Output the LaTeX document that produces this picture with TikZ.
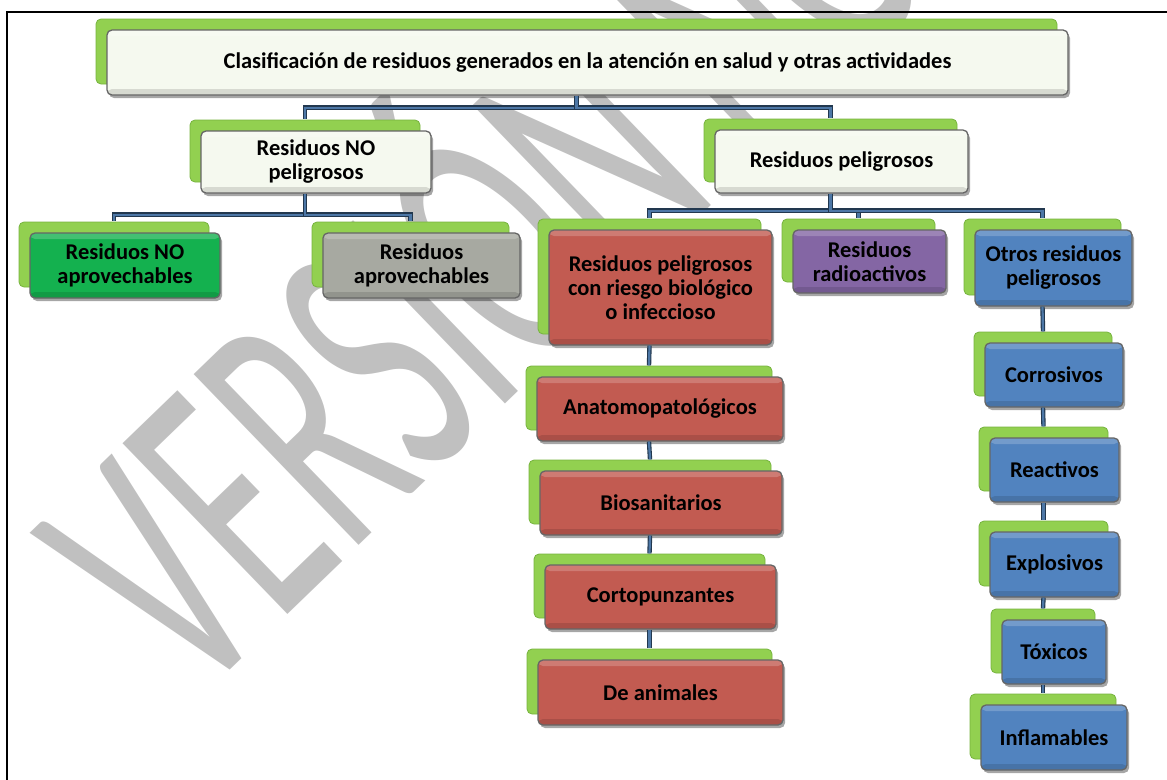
\documentclass[tikz,border=0pt]{standalone}
\usepackage{fontspec}
\setmainfont{Carlito}
\usetikzlibrary{shadows}

\definecolor{verdeA}{HTML}{92D050}
\definecolor{verdeB}{HTML}{76B33E}
\definecolor{blanco}{HTML}{F5F9EF}
\definecolor{verdeO}{HTML}{14B14F}
\definecolor{grisC}{HTML}{A7A9A1}
\definecolor{rojo}{HTML}{C25B51}
\definecolor{morado}{HTML}{8466A4}
\definecolor{azul}{HTML}{5183BF}
\definecolor{azulO}{HTML}{22384F}
\definecolor{azulC}{HTML}{4D77A6}
\definecolor{marcaG}{HTML}{C0C0C0}

\tikzset{
  caja/.style={draw=black!60, line width=1.3pt, rounded corners=5pt,
    align=center, inner sep=2pt,
    font=\bfseries\fontsize{22.5}{24}\selectfont,
    copy shadow={shadow xshift=-11pt, shadow yshift=11pt,
      fill=verdeA, draw=verdeB, line width=.8pt},
    drop shadow={shadow xshift=2pt, shadow yshift=-3pt,
      opacity=.35, fill=black},
    fill=#1,
    path picture={
      \fill[white,opacity=.2] (path picture bounding box.north west)
        rectangle ([yshift=-6pt]path picture bounding box.north east);
      \fill[black,opacity=.12] (path picture bounding box.south west)
        rectangle ([yshift=6pt]path picture bounding box.south east);
    }},
  tam/.style 2 args={minimum width=#1pt, minimum height=#2pt},
  conn/.style={draw=azulO, double=azulC, double distance=2.2pt,
    line width=1.1pt},
}

\begin{document}
\begin{tikzpicture}[x=1pt,y=-1pt]
  \useasboundingbox (0,0) rectangle (1167,779);
  % marca de agua
  \begin{scope}
   \clip (0,0) rectangle (1167,779);
   \node[text=marcaG, font=\fontsize{370}{370}\selectfont,
     rotate=44, xscale=.55, anchor=base west, inner sep=0pt]
     (marca) at (194,705) {VERSIÓN NO CONTROLADA};
  \end{scope}
  \draw[line width=2.5pt] (7,800) -- (7,12) -- (1190,12);

  % nivel 1 y 2
  \node[caja=blanco, tam={961}{65}] (titulo) at (587.5,62.5)
    {Clasificación de residuos generados en la atención en salud y otras actividades};
  \node[caja=blanco, tam={230}{62}] (noPel) at (316,162) {Residuos NO\\peligrosos};
  \node[caja=blanco, tam={253}{63}] (pel) at (841.5,161.5) {Residuos peligrosos};

  % no peligrosos
  \node[caja=verdeO, tam={190}{65}] (noAprov) at (125,265.5) {Residuos NO\\aprovechables};
  \node[caja=grisC, tam={197}{65}] (aprov) at (421.5,265.5) {Residuos\\aprovechables};

  % peligrosos
  \node[caja=rojo, tam={223}{115}] (riesgo) at (660.5,287.5)
    {Residuos peligrosos\\con riesgo biológico\\o infeccioso};
  \node[caja=morado, tam={153}{63}] (radio) at (869.5,261.5) {Residuos\\radioactivos};
  \node[caja=azul, tam={157}{76}] (otros) at (1053.5,268) {Otros residuos\\peligrosos};

  \node[caja=rojo, tam={246}{64}] (anatomo) at (660,409) {Anatomopatológicos};
  \node[caja=rojo, tam={242}{64}] (bio) at (661,503) {Biosanitarios};
  \node[caja=rojo, tam={231}{64}] (corto) at (660.5,597) {Cortopunzantes};
  \node[caja=rojo, tam={245}{65}] (animales) at (660.5,692.5) {De animales};

  \node[caja=azul, tam={138}{64}] (corrosivos) at (1054,375) {Corrosivos};
  \node[caja=azul, tam={129}{64}] (reactivos) at (1054.5,470) {Reactivos};
  \node[caja=azul, tam={129}{65}] (explosivos) at (1054.5,564.5) {Explosivos};
  \node[caja=azul, tam={104}{64}] (toxicos) at (1054,652) {Tóxicos};
  \node[caja=azul, tam={146}{65}] (inflamables) at (1054,737.5) {Inflamables};

  % conectores
  \draw[conn] ([xshift=-11pt]titulo.south) -- ++(0,12) -| ([xshift=-11pt,yshift=11pt]noPel.north);
  \draw[conn] ([xshift=-11pt]titulo.south) -- ++(0,12) -| ([xshift=-11pt,yshift=11pt]pel.north);
  \draw[conn] ([xshift=-11pt]noPel.south) -- ++(0,21) -| ([xshift=-11pt,yshift=11pt]noAprov.north);
  \draw[conn] ([xshift=-11pt]noPel.south) -- ++(0,21) -| ([xshift=-11pt,yshift=11pt]aprov.north);
  \foreach \b in {riesgo,radio,otros}
    \draw[conn] ([xshift=-11pt]pel.south) -- ++(0,17) -| ([xshift=-11pt,yshift=11pt]\b.north);
  \draw[conn] ([xshift=-11pt]riesgo.south) -- ([xshift=-11pt,yshift=11pt]anatomo.north);
  \draw[conn] ([xshift=-11pt]anatomo.south) -- ([xshift=-11pt,yshift=11pt]bio.north);
  \draw[conn] ([xshift=-11pt]bio.south) -- ([xshift=-11pt,yshift=11pt]corto.north);
  \draw[conn] ([xshift=-11pt]corto.south) -- ([xshift=-11pt,yshift=11pt]animales.north);
  \draw[conn] ([xshift=-11pt]otros.south) -- ([xshift=-11pt,yshift=11pt]corrosivos.north);
  \draw[conn] ([xshift=-11pt]corrosivos.south) -- ([xshift=-11pt,yshift=11pt]reactivos.north);
  \draw[conn] ([xshift=-11pt]reactivos.south) -- ([xshift=-11pt,yshift=11pt]explosivos.north);
  \draw[conn] ([xshift=-11pt]explosivos.south) -- ([xshift=-11pt,yshift=11pt]toxicos.north);
  \draw[conn] ([xshift=-11pt]toxicos.south) -- ([xshift=-11pt,yshift=11pt]inflamables.north);
\end{tikzpicture}
\end{document}
